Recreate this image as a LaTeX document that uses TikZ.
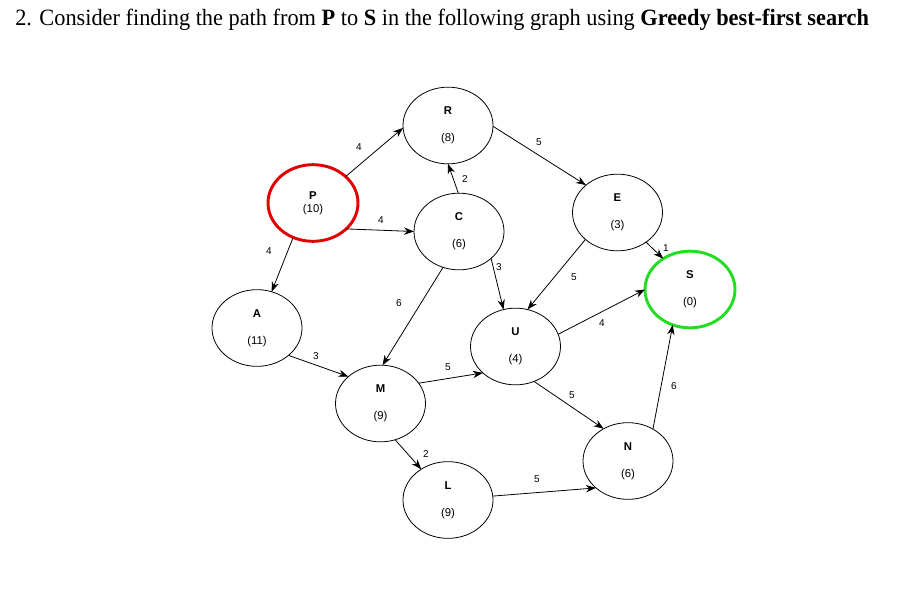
\documentclass[tikz,border=0pt]{standalone}
\usepackage{fontspec}
\setmainfont{Liberation Serif}
\newfontfamily\lsans{Liberation Sans}
\usetikzlibrary{shapes.geometric,arrows.meta}
\definecolor{redring}{HTML}{E30000}
\definecolor{greenring}{HTML}{22DD22}
\begin{document}
\begin{tikzpicture}[x=0.75pt,y=-0.75pt,
  st/.style={ellipse,draw,line width=0.6pt,minimum width=67.5pt,minimum height=57.5pt,
    inner sep=0pt,outer sep=0pt,align=center,font=\lsans\fontsize{8.5}{10}\selectfont},
  startst/.style={st,draw=redring,line width=2.2pt},
  goalst/.style={st,draw=greenring,line width=2.2pt},
  edge/.style={line width=0.6pt,-{Stealth[length=7.5pt,width=5.5pt]}},
  lbl/.style={inner sep=0pt,font=\lsans\fontsize{7.5}{8}\selectfont}]
\useasboundingbox (0,0) rectangle (902,606);
\node[anchor=base west,inner sep=0pt,font=\fontsize{17.5}{20}\selectfont] (title) at (15,26)
  {\scalebox{0.957}[1]{2. Consider finding the path from \textbf{P} to \textbf{S} in the following graph using \textbf{Greedy best-first search}}};

\node[startst] (P) at (313,203) {\textbf{P}\\(10)};
\node[st] (R) at (448,125.5) {\textbf{R}\\[10pt](8)};
\node[st] (C) at (459,231.5) {\textbf{C}\\[10pt](6)};
\node[st] (E) at (617.5,212.5) {\textbf{E}\\[10pt](3)};
\node[goalst] (S) at (690,289.5) {\textbf{S}\\[10pt](0)};
\node[st] (A) at (257,328) {\textbf{A}\\[10pt](11)};
\node[st] (M) at (380.5,403.5) {\textbf{M}\\[10pt](9)};
\node[st] (U) at (515.5,346.5) {\textbf{U}\\[10pt](4)};
\node[st] (L) at (448,500) {\textbf{L}\\[10.5pt](9)};
\node[st] (N) at (628,461) {\textbf{N}\\[10pt](6)};

\draw[edge] (P.39.5) -- (R.183) node[lbl] at (359,147) {4};
\draw[edge] (P.-38.5) -- (C.180) node[lbl] at (381,220) {4};
\draw[edge] (P.240.4) -- (A.68) node[lbl] at (269,251) {4};
\draw[edge] (C.91.5) -- (R.-90) node[lbl] at (465,179) {2};
\draw[edge] (R.-1) -- (E.139.8) node[lbl] at (539,142) {5};
\draw[edge] (C.-40) -- (U.108) node[lbl] at (499,267) {3};
\draw[edge] (E.220.5) -- (U.72) node[lbl] at (574,277) {5};
\draw[edge] (E.-46) -- (S.131.6) node[lbl] at (666,248) {1};
\draw[edge] (U.16.9) -- (S.180.6) node[lbl] at (602,323) {4};
\draw[edge] (C.246) -- (M.87.8) node[lbl] at (399,303) {6};
\draw[edge] (A.-41) -- (M.140.8) node[lbl] at (316,356) {3};
\draw[edge] (M.28.5) -- (U.219.2) node[lbl] at (448,367) {5};
\draw[edge] (M.-68.9) -- (L.131.2) node[lbl] at (426,454) {2};
\draw[edge] (U.-62.5) -- (N.127) node[lbl] at (572,395) {5};
\draw[edge] (L.5) -- (N.220.2) node[lbl] at (537,479) {5};
\draw[edge] (N.52) -- (S.244.4) node[lbl] at (674,386) {6};
\end{tikzpicture}
\end{document}
